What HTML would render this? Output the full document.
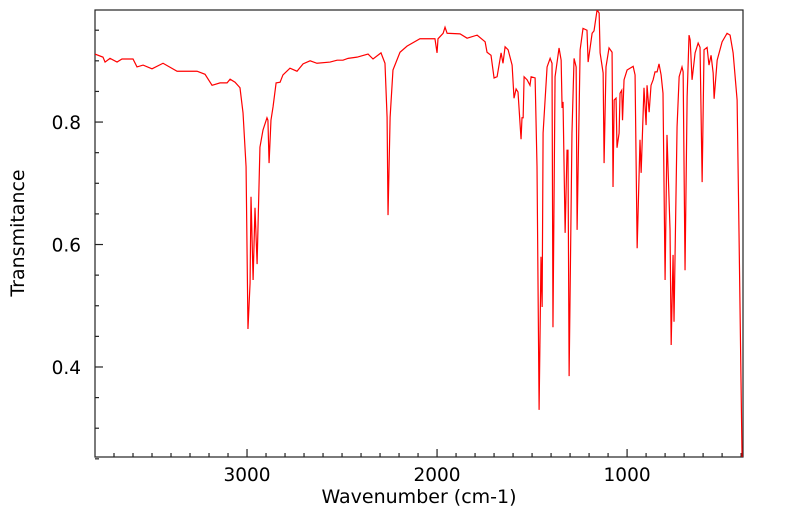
<!DOCTYPE html>
<html><head><meta charset="utf-8">
<style>
html,body{margin:0;padding:0;background:#fff;}
svg{display:block;font-family:"DejaVu Sans","Liberation Sans",sans-serif;}
</style></head>
<body>
<svg id="chart" width="799" height="516" viewBox="0 0 799 516" xmlns="http://www.w3.org/2000/svg">
<defs><clipPath id="plotclip"><rect x="95" y="10" width="648" height="447"/></clipPath></defs>
<rect x="95" y="10" width="648" height="447" fill="#fff" stroke="#222" stroke-width="1.2"/>
<g id="ticks"></g>
<g id="labels"></g>
<path id="series" fill="none" stroke="#ff0000" stroke-width="1.2" clip-path="url(#plotclip)"/>
<text x="419" y="503" font-size="19" text-anchor="middle" fill="#000">Wavenumber (cm-1)</text>
<text x="24" y="233" font-size="19" text-anchor="middle" fill="#000" transform="rotate(-90 24 233)">Transmitance</text>
</svg>
<script>
const wavenumbers = [3800,3758,3747,3721,3684,3658,3600,3579,3547,3500,3442,3368,3263,3221,3184,3142,3105,3089,3063,3037,3021,3005,2995,2984,2979,2968,2958,2947,2932,2916,2895,2890,2884,2874,2863,2847,2826,2811,2774,2737,2705,2668,2632,2563,2526,2495,2468,2421,2363,2337,2295,2274,2263,2258,2247,2232,2195,2158,2090,2011,2000,1995,1968,1958,1947,1879,1842,1789,1747,1737,1716,1700,1684,1663,1653,1642,1626,1605,1595,1584,1574,1558,1553,1547,1542,1526,1511,1505,1484,1474,1463,1453,1447,1442,1421,1405,1395,1390,1379,1358,1347,1342,1337,1326,1316,1311,1305,1290,1279,1268,1263,1247,1232,1211,1205,1184,1174,1158,1147,1142,1126,1121,1111,1095,1079,1074,1068,1058,1053,1042,1037,1028,1024,1016,1000,968,958,947,932,926,911,900,895,884,874,863,853,842,832,821,811,800,790,774,768,758,753,737,726,711,705,695,684,674,668,658,642,626,616,605,595,579,569,558,547,542,526,500,474,458,442,421,411,395];
const transmittance = [0.911,0.906,0.898,0.904,0.898,0.903,0.903,0.890,0.893,0.887,0.896,0.883,0.883,0.878,0.860,0.864,0.864,0.870,0.865,0.856,0.815,0.727,0.462,0.537,0.678,0.542,0.660,0.568,0.759,0.787,0.807,0.803,0.733,0.803,0.825,0.864,0.865,0.877,0.888,0.883,0.895,0.900,0.896,0.898,0.901,0.901,0.904,0.906,0.911,0.903,0.913,0.896,0.808,0.648,0.808,0.885,0.914,0.924,0.936,0.936,0.913,0.936,0.945,0.955,0.945,0.944,0.937,0.942,0.931,0.914,0.909,0.872,0.874,0.913,0.896,0.923,0.918,0.893,0.839,0.854,0.849,0.772,0.807,0.807,0.874,0.869,0.860,0.874,0.872,0.727,0.330,0.580,0.498,0.782,0.890,0.904,0.896,0.465,0.874,0.921,0.901,0.823,0.833,0.619,0.754,0.754,0.385,0.782,0.904,0.890,0.624,0.918,0.953,0.950,0.898,0.945,0.949,0.983,0.978,0.913,0.880,0.733,0.890,0.921,0.914,0.694,0.836,0.839,0.758,0.782,0.847,0.852,0.803,0.869,0.885,0.891,0.877,0.594,0.771,0.717,0.856,0.795,0.860,0.816,0.860,0.869,0.882,0.882,0.895,0.877,0.847,0.542,0.779,0.624,0.436,0.583,0.474,0.792,0.874,0.890,0.882,0.558,0.841,0.942,0.934,0.869,0.913,0.929,0.922,0.702,0.918,0.922,0.893,0.909,0.880,0.838,0.901,0.931,0.945,0.942,0.913,0.836,0.619,0.252];
const xTickLabels = [3000,2000,1000];
const yTickLabels = [0.4,0.6,0.8];

const X0=95,X1=743,Y0=10,Y1=457;
const WN_L=3800,WN_R=390,T_TOP=0.983,T_BOT=0.253;
function xScale(w){return X0+(WN_L-w)/(WN_L-WN_R)*(X1-X0);}
function yScale(t){return Y0+(T_TOP-t)/(T_TOP-T_BOT)*(Y1-Y0);}

const NS="http://www.w3.org/2000/svg";
const tg=document.getElementById('ticks'), lg=document.getElementById('labels');
function line(x1,y1,x2,y2){const l=document.createElementNS(NS,'line');l.setAttribute('x1',x1);l.setAttribute('y1',y1);l.setAttribute('x2',x2);l.setAttribute('y2',y2);l.setAttribute('stroke','#222');l.setAttribute('stroke-width','1.2');return l;}
for(let w=3700;w>=400;w-=100){
  const x=xScale(w);const major=(w%1000===0);
  const l=line(x,Y1,x,Y1-(major?8:4));
  
  
  tg.appendChild(l);
}
for(let i=0;i<15;i++){
  const t=0.25+i*0.05;if(t>T_TOP)break;
  const y=yScale(t);const major=Math.abs(Math.round(t*10)-t*10)<1e-6 && Math.round(t*10)%2===0;
  const l=line(X0,y,X0+(major?8:4),y);
  
  
  tg.appendChild(l);
}
xTickLabels.forEach(v=>{
  const t=document.createElementNS(NS,'text');
  t.setAttribute('x',xScale(v));t.setAttribute('y',Y1+24);t.setAttribute('font-size','18.5');t.setAttribute('text-anchor','middle');
  t.textContent=v;
  
  
  lg.appendChild(t);
});
yTickLabels.forEach(v=>{
  const t=document.createElementNS(NS,'text');
  t.setAttribute('x',X0-14);t.setAttribute('y',yScale(v)+7);t.setAttribute('font-size','18.5');t.setAttribute('text-anchor','end');
  t.textContent=v.toFixed(1);
  
  
  lg.appendChild(t);
});
let d='';
wavenumbers.forEach((w,i)=>{d+=(i?'L':'M')+xScale(w).toFixed(2)+','+yScale(transmittance[i]).toFixed(2);});
document.getElementById('series').setAttribute('d',d);
</script>
</body></html>
